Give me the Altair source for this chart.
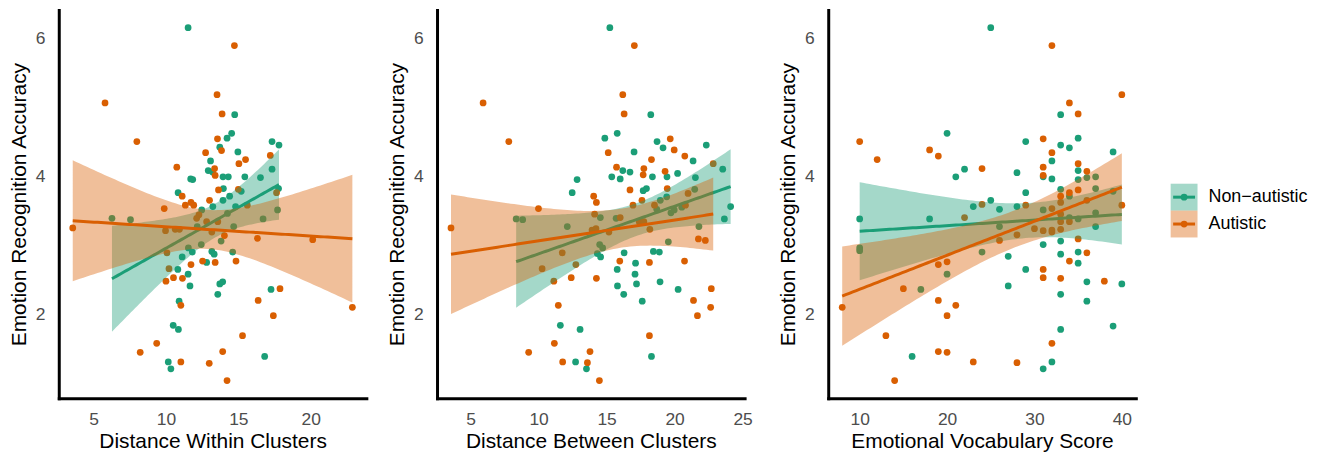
import numpy as np
import pandas as pd
import altair as alt

GROUPS = ["Non\u2212autistic", "Autistic"]
COLORS = ["#1B9E77", "#D95F02"]
Y_TITLE = "Emotion Recognition Accuracy"
Y_TICKS = [2, 4, 6]
X_TICKS_WITHIN = [5, 10, 15, 20]
X_TICKS_BETWEEN = [5, 10, 15, 20, 25]
X_TICKS_VOCAB = [10, 20, 30, 40]

# ---- Panel 1: Distance Within Clusters ----
within_non_x = [11.53, 14.75, 14.54, 14.22, 13.72, 14.97, 17.33, 17.81, 13.08, 12.92, 13.22, 17.33, 13.94, 14.31,
                15.45, 16.53, 11.71, 11.85, 13.97, 15.20, 17.78, 10.84, 14.40, 13.94, 13.24, 14.81, 12.47, 17.71,
                14.25, 16.71, 12.16, 14.68, 6.27, 7.55, 13.81, 12.44, 11.55, 11.82, 11.12, 13.17, 13.33, 14.61,
                12.81, 10.82, 11.53, 11.66, 13.72, 13.92, 13.58, 17.26, 10.91, 10.50, 10.86, 10.16, 10.34, 16.82]
within_non_y = [6.16, 4.90, 4.63, 4.56, 4.43, 4.36, 4.51, 4.46, 4.23, 4.09, 4.07, 4.11, 4.00, 4.00,
                4.00, 3.99, 3.97, 3.96, 3.83, 3.79, 3.83, 3.77, 3.72, 3.66, 3.57, 3.57, 3.52, 3.52,
                3.47, 3.39, 3.28, 3.28, 3.40, 3.38, 3.07, 3.02, 2.97, 2.91, 2.84, 2.92, 2.88, 2.91,
                2.76, 2.66, 2.59, 2.42, 2.45, 2.48, 2.30, 2.37, 2.20, 1.85, 1.79, 1.32, 1.22, 1.40]
within_aut_x = [14.73, 5.79, 13.53, 13.88, 7.99, 13.56, 13.84, 12.74, 17.21, 15.50, 15.04, 10.75, 13.36, 13.40,
                13.63, 15.00, 17.64, 11.12, 13.01, 11.73, 11.34, 11.92, 15.62, 9.88, 12.28, 12.12, 9.97, 10.64,
                10.93, 12.81, 13.58, 13.17, 14.04, 16.32, 20.14, 10.07, 11.73, 12.53, 13.40, 14.84, 10.21, 10.00,
                10.52, 11.14, 17.88, 3.56, 11.03, 9.36, 8.22, 11.03, 12.99, 13.92, 14.22, 15.29, 22.88, 16.37, 17.42]
within_aut_y = [5.90, 5.07, 5.19, 4.91, 4.51, 4.55, 4.38, 4.35, 4.31, 4.25, 4.19, 4.14, 4.12, 4.02,
                3.81, 3.82, 3.77, 3.72, 3.66, 3.63, 3.59, 3.59, 3.59, 3.54, 3.45, 3.40, 3.22, 3.24,
                3.24, 3.35, 3.35, 3.20, 3.15, 3.11, 3.09, 2.90, 2.73, 2.78, 2.76, 2.78, 2.67, 2.49,
                2.54, 2.53, 2.38, 3.26, 2.14, 1.59, 1.46, 1.32, 1.30, 1.47, 1.05, 1.70, 2.11, 2.21, 1.99]

# ---- Panel 2: Distance Between Clusters ----
between_non_x = [15.24, 18.25, 15.78, 14.87, 17.02, 18.71, 19.15, 22.33, 21.36, 16.19, 16.72, 15.38, 16.00, 18.37,
                 19.44, 20.22, 23.54, 12.83, 12.47, 17.69, 17.93, 21.53, 21.48, 19.42, 24.12, 18.95, 18.69, 19.73,
                 19.97, 20.53, 21.79, 23.66, 19.54, 14.54, 15.70, 12.11, 14.49, 14.71, 14.32, 14.56, 16.29, 18.44,
                 18.88, 15.78, 17.13, 17.09, 15.80, 17.20, 18.93, 16.26, 20.26, 8.35, 8.83, 11.60, 13.05, 12.72,
                 13.52, 18.30, 17.62]
between_non_y = [6.16, 4.90, 4.63, 4.56, 4.36, 4.51, 4.42, 4.46, 4.23, 4.09, 4.07, 4.00, 3.97, 4.00,
                 4.00, 4.05, 4.11, 3.96, 3.77, 3.80, 3.83, 3.99, 3.82, 3.71, 3.57, 3.66, 3.53, 3.48,
                 3.52, 3.56, 3.28, 3.39, 3.06, 3.41, 3.40, 3.28, 3.02, 2.97, 2.89, 2.84, 2.90, 2.92,
                 2.91, 2.66, 2.75, 2.59, 2.42, 2.45, 2.48, 2.30, 2.37, 3.39, 3.38, 1.85, 1.79, 1.32,
                 1.22, 1.40, 2.20]
between_aut_x = [17.04, 5.92, 16.19, 16.29, 7.81, 15.12, 19.68, 19.97, 20.75, 18.30, 15.73, 17.74, 17.69, 19.30,
                 16.72, 19.46, 22.84, 14.05, 14.25, 16.94, 17.60, 18.52, 20.99, 9.99, 20.80, 14.12, 16.00, 17.40,
                 17.74, 18.18, 13.93, 14.22, 15.17, 21.75, 22.26, 11.74, 10.26, 12.74, 15.97, 18.15, 20.73, 11.12,
                 12.40, 14.25, 22.70, 3.56, 11.45, 11.16, 9.27, 11.77, 13.59, 13.78, 14.47, 18.15, 22.65, 21.39, 21.68]
between_aut_y = [5.90, 5.07, 5.19, 4.91, 4.51, 4.35, 4.55, 4.39, 4.30, 4.25, 4.14, 4.12, 4.03, 4.08,
                 3.81, 3.83, 4.19, 3.72, 3.63, 3.59, 3.66, 3.59, 3.76, 3.54, 3.59, 3.46, 3.41, 3.35,
                 3.35, 3.24, 3.23, 3.25, 3.20, 3.10, 3.08, 2.90, 2.67, 2.73, 2.78, 2.76, 2.78, 2.49,
                 2.54, 2.53, 2.38, 3.26, 2.14, 1.59, 1.46, 1.32, 1.31, 1.47, 1.05, 1.70, 2.11, 2.21, 1.99]

# ---- Panel 3: Emotional Vocabulary Score ----
vocab_non_x = [25, 33, 20, 29, 35, 33, 34, 39, 32, 22, 21, 28, 31, 32, 35, 35, 36, 37, 33, 34, 37, 29, 39, 25,
               23, 26, 28, 31, 34, 35, 37, 37, 26, 10, 18, 10, 10, 31, 33, 27, 33, 35, 24, 35, 20, 29, 27, 17,
               36, 40, 33, 36, 33, 39, 16, 31, 32]
vocab_non_y = [6.16, 4.90, 4.63, 4.51, 4.56, 4.46, 4.42, 4.36, 4.23, 4.11, 4.00, 4.06, 4.00, 3.97, 4.09, 3.96,
               3.99, 4.00, 3.82, 3.72, 3.83, 3.77, 3.79, 3.66, 3.57, 3.53, 3.57, 3.52, 3.41, 3.39, 3.48, 3.28,
               3.28, 3.39, 3.39, 2.97, 2.93, 3.02, 3.07, 2.85, 2.88, 2.91, 2.91, 2.75, 2.59, 2.66, 2.42, 2.37,
               2.48, 2.45, 2.30, 2.20, 1.79, 1.84, 1.40, 1.22, 1.32]
vocab_aut_x = [32, 40, 34, 35, 10, 31, 32, 18, 19, 12, 35, 31, 24, 31, 36, 33, 34, 35, 36, 33, 24, 29, 32, 40,
               22, 33, 33, 34, 30, 31, 32, 32, 33, 28, 26, 35, 36, 34, 19, 20, 31, 31, 33, 38, 15, 8, 19, 21,
               20, 13, 19, 20, 14, 23, 28, 32]
vocab_aut_y = [5.90, 5.19, 5.07, 4.91, 4.51, 4.55, 4.35, 4.39, 4.30, 4.25, 4.19, 4.14, 4.12, 4.02, 4.08, 3.72,
               3.77, 3.81, 3.66, 3.63, 3.60, 3.59, 3.54, 3.59, 3.41, 3.46, 3.35, 3.35, 3.25, 3.22, 3.23, 3.20,
               3.24, 3.16, 3.08, 3.10, 2.90, 2.78, 2.73, 2.77, 2.66, 2.54, 2.53, 2.49, 2.38, 2.11, 2.21, 2.14,
               1.99, 1.70, 1.47, 1.46, 1.05, 1.32, 1.31, 1.59]

FONT = "Liberation Sans"
W, H = 309, 390
PT_SIZE = 46
LINE_W = 3


def expand(vals, mult=0.05):
    lo, hi = float(min(vals)), float(max(vals))
    d = (hi - lo) * mult
    return [lo - d, hi + d]


ALL_Y = (within_non_y + within_aut_y + between_non_y + between_aut_y + vocab_non_y + vocab_aut_y)
Y_DOMAIN = expand(ALL_Y)


def t_crit(dof):
    z = 1.959964
    return z + (z ** 3 + z) / (4 * dof) + (5 * z ** 5 + 16 * z ** 3 + 3 * z) / (96 * dof ** 2)


def smooth(xs, ys, n=80):
    x = np.asarray(xs, float)
    y = np.asarray(ys, float)
    b, a = np.polyfit(x, y, 1)
    resid = y - (a + b * x)
    dof = len(x) - 2
    s = np.sqrt((resid ** 2).sum() / dof)
    xbar = x.mean()
    sxx = ((x - xbar) ** 2).sum()
    gx = np.linspace(x.min(), x.max(), n)
    fit = a + b * gx
    se = s * np.sqrt(1.0 / len(x) + (gx - xbar) ** 2 / sxx)
    t = t_crit(dof)
    return pd.DataFrame({"x": gx, "fit": fit, "lo": fit - t * se, "hi": fit + t * se})


def panel(nx, ny, ax, ay, title, ticks):
    pts = pd.concat([
        pd.DataFrame({"x": nx, "y": ny, "group": GROUPS[0]}),
        pd.DataFrame({"x": ax, "y": ay, "group": GROUPS[1]}),
    ], ignore_index=True)
    xscale = alt.Scale(domain=expand(list(nx) + list(ax)), nice=False, zero=False)
    yscale = alt.Scale(domain=Y_DOMAIN, nice=False, zero=False)
    xaxis = alt.Axis(values=ticks, title=title)
    yaxis = alt.Axis(values=Y_TICKS, title=Y_TITLE)
    points = alt.Chart(pts).mark_circle(size=PT_SIZE, opacity=1).encode(
        x=alt.X("x:Q", scale=xscale, axis=xaxis),
        y=alt.Y("y:Q", scale=yscale, axis=yaxis),
        color=alt.Color("group:N", scale=alt.Scale(domain=GROUPS, range=COLORS), legend=None),
    )
    layers = [points]
    for col, xs, ys in ((COLORS[0], nx, ny), (COLORS[1], ax, ay)):
        sm = smooth(xs, ys)
        band = alt.Chart(sm).mark_area(color=col, opacity=0.4).encode(
            x=alt.X("x:Q", scale=xscale, axis=xaxis),
            y=alt.Y("lo:Q", scale=yscale, axis=yaxis),
            y2="hi:Q",
        )
        line = alt.Chart(sm).mark_line(color=col, strokeWidth=LINE_W).encode(
            x=alt.X("x:Q", scale=xscale, axis=xaxis),
            y=alt.Y("fit:Q", scale=yscale, axis=yaxis),
        )
        layers += [band, line]
    return alt.layer(*layers).properties(width=W, height=H)


p1 = panel(within_non_x, within_non_y, within_aut_x, within_aut_y, "Distance Within Clusters", X_TICKS_WITHIN)
p2 = panel(between_non_x, between_non_y, between_aut_x, between_aut_y, "Distance Between Clusters", X_TICKS_BETWEEN)
p3 = panel(vocab_non_x, vocab_non_y, vocab_aut_x, vocab_aut_y, "Emotional Vocabulary Score", X_TICKS_VOCAB)

# ---- custom legend (band + line + point keys) ----
leg_df = pd.DataFrame({"group": GROUPS, "row": [0, 1]})
leg_y = alt.Y("row:Q", scale=alt.Scale(domain=[0, 1], range=[188, 215]), axis=None)
leg_color = alt.Color("group:N", scale=alt.Scale(domain=GROUPS, range=COLORS), legend=None)
leg_base = alt.Chart(leg_df)
legend = alt.layer(
    leg_base.mark_square(size=729, opacity=0.4, filled=True).encode(x=alt.value(13.5), y=leg_y, color=leg_color),
    leg_base.mark_rule(strokeWidth=LINE_W).encode(x=alt.value(2.5), x2=alt.value(24.5), y=leg_y, color=leg_color),
    leg_base.mark_circle(size=PT_SIZE, opacity=1).encode(x=alt.value(13.5), y=leg_y, color=leg_color),
    leg_base.mark_text(align="left", baseline="middle", font=FONT, fontSize=18, color="black").encode(
        x=alt.value(38), y=leg_y, text="group:N"),
).properties(width=142, height=H)

chart = alt.hconcat(
    alt.hconcat(p1, p2, spacing=20),
    alt.hconcat(p3, legend, spacing=35),
    spacing=25,
).properties(
    padding={"left": 0, "top": 1, "right": 0, "bottom": 0}
).configure_view(
    stroke=None
).configure_axis(
    grid=False, ticks=False, tickSize=0,
    domainColor="black", domainWidth=3, domainCap="square",
    labelColor="#4D4D4D", labelFont=FONT, labelFontSize=17.5,
    titleFont=FONT, titleFontSize=21, titleFontWeight="normal", titleColor="black",
).configure_axisX(
    labelPadding=12, titlePadding=3,
).configure_axisY(
    labelPadding=14, titlePadding=6,
)

chart.save("out.html", embed_options={"renderer": "svg", "actions": False})
